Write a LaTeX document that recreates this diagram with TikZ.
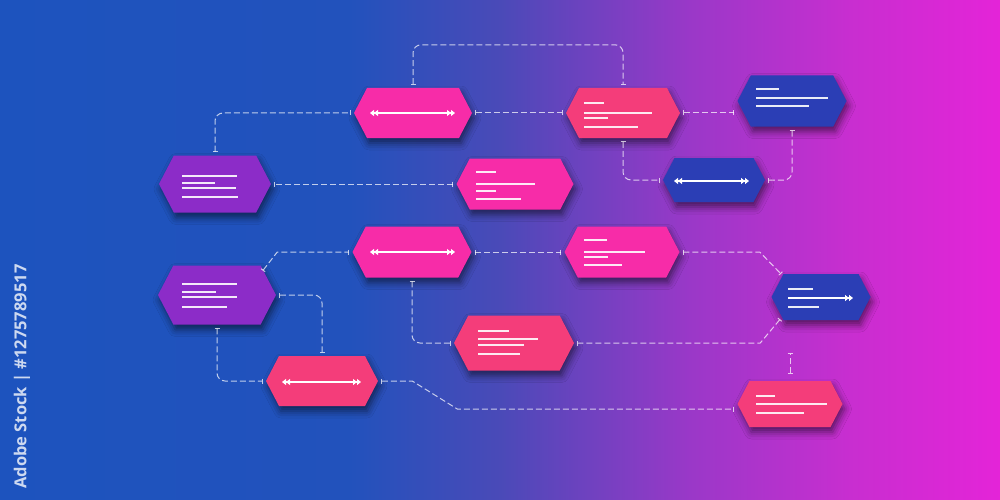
\documentclass[tikz,border=0pt]{standalone}
\usepackage{fontspec}
\newfontfamily\wmfont{Open Sans}
\usetikzlibrary{shapes.symbols,arrows.meta,calc,shadows.blur}
\definecolor{bgA}{HTML}{1D53BE}
\definecolor{bgB}{HTML}{2252BC}
\definecolor{bgC}{HTML}{4A4AB8}
\definecolor{bgD}{HTML}{9A38C8}
\definecolor{bgE}{HTML}{C82ED0}
\definecolor{bgF}{HTML}{E424D8}
\definecolor{hotpink}{HTML}{F72CA8}
\definecolor{coral}{HTML}{F43D7A}
\definecolor{violet}{HTML}{8C2CC8}
\definecolor{navy}{HTML}{2B3EB5}
\pgfdeclarehorizontalshading{bgshade}{100bp}{color(0bp)=(bgA); color(25bp)=(bgA); color(42.5bp)=(bgB); color(50bp)=(bgC); color(59.5bp)=(bgD); color(67.5bp)=(bgE); color(75bp)=(bgF); color(100bp)=(bgF)}
\tikzset{
  hexbox/.style={signal, signal to=east and west, signal pointer angle=125,
    inner sep=0pt, draw=none,
    blur shadow={shadow xshift=2pt, shadow yshift=-5pt, shadow opacity=55, shadow blur radius=7pt}},
  conn/.style={draw=white, draw opacity=0.72, line width=1pt, dash pattern=on 6pt off 3pt,
    rounded corners=8pt, {Bar[width=5pt,line width=1pt]}-{Bar[width=5pt,line width=1pt]},
    shorten <=3pt, shorten >=3pt},
  txtline/.style={draw=white, draw opacity=0.9, line width=1.2pt},
  dblarrow/.style={draw=white, line width=1.3pt,
    {Triangle[length=4pt,width=6pt] Triangle[length=4pt,width=6pt]}-{Triangle[length=4pt,width=6pt] Triangle[length=4pt,width=6pt]}},
  onearrow/.style={draw=white, line width=1.3pt,
    -{Triangle[length=4pt,width=6pt] Triangle[length=4pt,width=6pt]}}
}
\begin{document}
\begin{tikzpicture}[x=1pt,y=-1pt]
\useasboundingbox (0,0) rectangle (1000,500);
\fill[shading=bgshade] (0,0) rectangle (1000,500);
% side id text
\node[rotate=90, anchor=east, text=white, text opacity=0.78, font=\wmfont\bfseries\fontsize{16.5}{16.5}\selectfont] (wm) at (22,261) {Adobe Stock | \#1275789517};

% nodes
\node[hexbox, fill=violet, minimum width=112pt, minimum height=57pt] (n1) at (215,184) {};
\node[hexbox, fill=hotpink, minimum width=118pt, minimum height=50pt] (n2) at (413,113) {};
\node[hexbox, fill=coral, minimum width=114pt, minimum height=50pt] (n3) at (623,113) {};
\node[hexbox, fill=navy, minimum width=109pt, minimum height=51pt] (n4) at (792,101) {};
\node[hexbox, fill=hotpink, minimum width=117pt, minimum height=51pt] (n5) at (515,184) {};
\node[hexbox, fill=navy, minimum width=102pt, minimum height=44pt] (n6) at (714,180) {};
\node[hexbox, fill=violet, minimum width=118pt, minimum height=59pt] (n7) at (217,295) {};
\node[hexbox, fill=hotpink, minimum width=119pt, minimum height=51pt] (n8) at (412,252) {};
\node[hexbox, fill=coral, minimum width=112pt, minimum height=50pt] (n9) at (322,381) {};
\node[hexbox, fill=hotpink, minimum width=115pt, minimum height=51pt] (n10) at (622,252) {};
\node[hexbox, fill=coral, minimum width=120pt, minimum height=55pt] (n11) at (514,343) {};
\node[hexbox, fill=navy, minimum width=99pt, minimum height=46pt] (n12) at (821,297) {};
\node[hexbox, fill=coral, minimum width=105pt, minimum height=46pt] (n13) at (790,404) {};

% connectors
\draw[conn] (n2.north) -- ($(n2.north)+(0,-43)$) -| (n3.north);
\draw[conn] (n1.north) |- (n2.west);
\draw[conn] (n2.east) -- (n3.west);
\draw[conn] (n3.east) -- (n3.east -| n4.west);
\draw[conn] (n3.south) |- (n6.west);
\draw[conn] (n6.east) -| (n4.south);
\draw[conn] (n5.west) -- (n1.east);
\draw[conn, rounded corners=0pt] ($(n7.center)+(44,-22)$) -- ($(n8.west)+(-75,0)$) -- (n8.west);
\draw[conn] (n8.east) -- (n10.west);
\draw[conn, rounded corners=0pt] (n10.east) -- ($(n10.east)+(80,0)$) -- ($(n12.center)+(-38,-21)$);
\draw[conn, rounded corners=0pt] ($(n12.center)+(-39,20)$) -- ($(n11.east)+(186,0)$) -- (n11.east);
\draw[conn] (n7.east) -| (n9.north);
\draw[conn] (n7.south) |- (n9.west);
\draw[conn] (n8.south) |- (n11.west);
\draw[conn, rounded corners=0pt] (n9.east) -- ($(n9.east)+(34,0)$) -- ($(n13.west)+(-280,5)$) -- ($(n13.west)+(0,5)$);
\draw[conn, shorten <=7pt, shorten >=33pt] (n13.north) -- (n13.north |- n12.south);

% node contents
\draw[dblarrow] (370,113) -- (455,113);
\draw[dblarrow] (370,252) -- (455,252);
\draw[dblarrow] (282,382) -- (361,382);
\draw[dblarrow] (674,181) -- (749,181);
\draw[onearrow] (788,298) -- (853,298);
\draw[txtline] (788,289) -- (813,289);
\draw[txtline] (788,307) -- (819,307);

\draw[txtline] (182,176) -- (237,176);
\draw[txtline] (182,183) -- (215,183);
\draw[txtline] (182,188) -- (236,188);
\draw[txtline] (182,197) -- (238,197);

\draw[txtline] (182,284) -- (237,284);
\draw[txtline] (182,292) -- (216,292);
\draw[txtline] (182,297) -- (237,297);
\draw[txtline] (182,307) -- (227,307);

\draw[txtline] (584,103) -- (604,103);
\draw[txtline] (584,113) -- (652,113);
\draw[txtline] (584,118) -- (608,118);
\draw[txtline] (584,127) -- (638,127);

\draw[txtline] (756,89) -- (779,89);
\draw[txtline] (756,98) -- (828,98);
\draw[txtline] (756,106) -- (809,106);

\draw[txtline] (476,172) -- (496,172);
\draw[txtline] (476,184) -- (535,184);
\draw[txtline] (476,191) -- (496,191);
\draw[txtline] (476,199) -- (521,199);

\draw[txtline] (584,240) -- (607,240);
\draw[txtline] (584,252) -- (645,252);
\draw[txtline] (584,257) -- (608,257);
\draw[txtline] (584,265) -- (622,265);

\draw[txtline] (478,331) -- (509,331);
\draw[txtline] (478,339) -- (538,339);
\draw[txtline] (478,345) -- (524,345);
\draw[txtline] (478,354) -- (520,354);

\draw[txtline] (756,396) -- (775,396);
\draw[txtline] (756,404) -- (827,404);
\draw[txtline] (756,413) -- (804,413);
\end{tikzpicture}
\end{document}
